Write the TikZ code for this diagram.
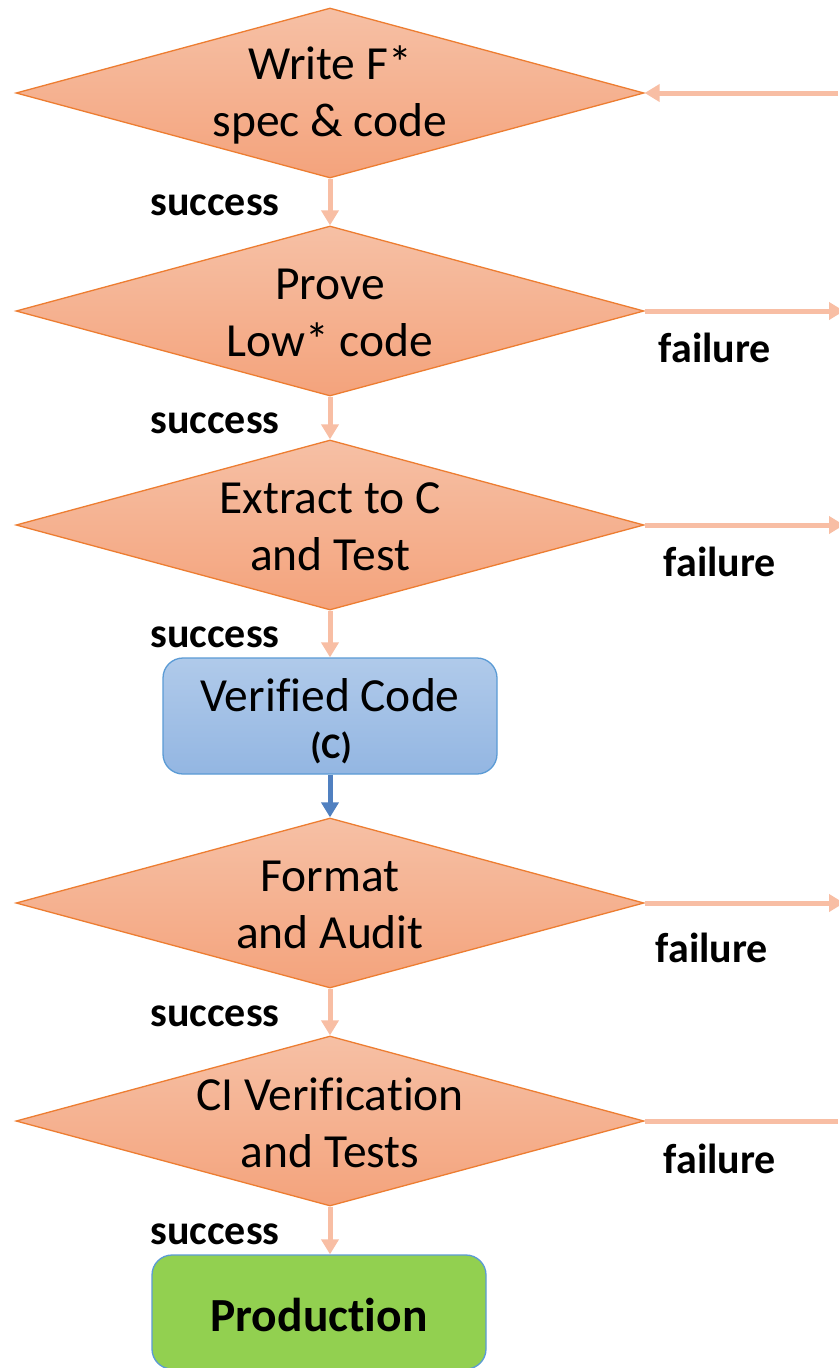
\documentclass[tikz,border=0pt]{standalone}
\usepackage{fontspec}
\setmainfont{Carlito}[Ligatures=CommonOff]
\usetikzlibrary{shapes.geometric,arrows.meta}
\definecolor{salmon}{RGB}{248,190,164}
\definecolor{diatop}{RGB}{246,192,165}
\definecolor{diabot}{RGB}{244,163,124}
\definecolor{diaedge}{RGB}{237,125,49}
\definecolor{bluetop}{RGB}{176,202,234}
\definecolor{bluebot}{RGB}{147,182,226}
\definecolor{blueedge}{RGB}{91,155,213}
\definecolor{bluearrow}{RGB}{80,128,192}
\definecolor{prodgreen}{RGB}{146,208,80}
\tikzset{
  dia/.style={diamond, minimum width=628pt, minimum height=170pt, inner sep=0pt,
    draw=diaedge, line width=1.3pt, top color=diatop, bottom color=diabot},
  bigtext/.style={align=center, font=\fontsize{47.5}{57}\selectfont, inner sep=0pt},
  lbl/.style={font=\fontsize{42}{50}\selectfont\bfseries, inner sep=0pt},
  flow/.style={draw=salmon, line width=5pt, -{Triangle[width=17pt,length=15pt]}},
  flowplain/.style={draw=salmon, line width=5pt},
  bluebox/.style={rounded corners=20pt, draw=blueedge, line width=1.3pt,
    top color=bluetop, bottom color=bluebot, minimum width=334pt, minimum height=116pt},
  prodbox/.style={rounded corners=20pt, draw=blueedge, line width=1.3pt,
    fill=prodgreen, minimum width=334pt, minimum height=114pt}
}
\begin{document}
\begin{tikzpicture}[x=1pt,y=-1pt]
\useasboundingbox (0,0) rectangle (838,1368);
\fill[white] (0,0) rectangle (838,1368);

% diamonds
\node[dia] (d1) at (330,93) {};
\node[bigtext] (t1) at (330,95) {Write F*\\spec \& code};
\node[dia] (d2) at (330,311) {};
\node[bigtext] (t2) at (330,313) {Prove\\Low* code};
\node[dia] (d3) at (330,525) {};
\node[bigtext] (t3) at (330,527) {Extract to C\\and Test};
\node[dia] (d4) at (330,903) {};
\node[bigtext] (t4) at (330,905) {Format\\and Audit};
\node[dia] (d5) at (330,1121) {};
\node[bigtext] (t5) at (330,1123) {CI Verification\\and Tests};

% boxes
\node[bluebox] (vc) at (330,716) {};
\node[bigtext] (vct) at (330,695) {Verified Code};
\node[inner sep=0pt, font=\fontsize{36}{40}\selectfont\bfseries] (vcc) at (331,748) {(C)};
\node[prodbox] (prod) at (319,1312) {};
\node[bigtext, font=\fontsize{47.5}{57}\selectfont\bfseries] (prodt) at (319,1315) {Production};

% right-edge coordinates
\coordinate (r1) at (838,93);
\coordinate (r2) at (844,311);
\coordinate (r3) at (844,525);
\coordinate (r4) at (844,903);
\coordinate (r5) at (838,1121);

% vertical arrows
\draw[flow] (d1.south) -- (d2.north);
\draw[flow] (d2.south) -- (d3.north);
\draw[flow] (d3.south) -- (vc.north);
\draw[draw=bluearrow, line width=5pt, -{Triangle[width=17pt,length=15pt]}] (vc.south) -- (d4.north);
\draw[flow] (d4.south) -- (d5.north);
\draw[flow] (d5.south) -- (d5.south |- prod.north);

% horizontal arrows
\draw[flow] (r1) -- (d1.east);
\draw[flow] (d2.east) -- (r2);
\draw[flow] (d3.east) -- (r3);
\draw[flow] (d4.east) -- (r4);
\draw[flowplain] (d5.east) -- (r5);

% labels
\node[lbl] (s1) at (215,205) {success};
\node[lbl] (s2) at (215,423) {success};
\node[lbl] (s3) at (215,637) {success};
\node[lbl] (s4) at (215,1016) {success};
\node[lbl] (s5) at (215,1234) {success};
\node[lbl] (f2) at (715,348) {failure};
\node[lbl] (f3) at (720,562) {failure};
\node[lbl] (f4) at (712,948) {failure};
\node[lbl] (f5) at (720,1159) {failure};
\end{tikzpicture}
\end{document}
